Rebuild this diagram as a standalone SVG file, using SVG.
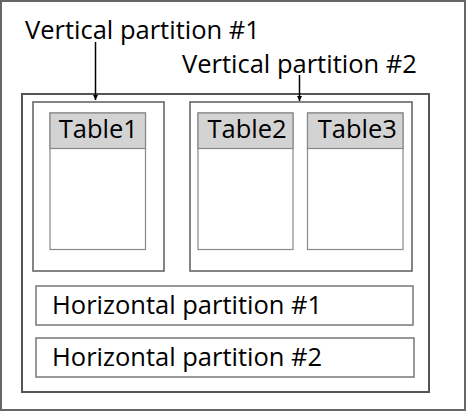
<svg xmlns="http://www.w3.org/2000/svg" width="466" height="411" viewBox="0 0 466 411">
<defs>
<style>
text{font-family:"Open Sans","Noto Sans",sans-serif;font-size:25.5px;fill:#000}
.outer{fill:#fff;stroke:#666;stroke-width:2}
.main{fill:none;stroke:#555;stroke-width:2}
.vp{fill:none;stroke:#666;stroke-width:1.6}
.hp{fill:none;stroke:#777;stroke-width:1.5}
.thead{fill:#d3d3d3;stroke:#888;stroke-width:1.2}
.tbody{fill:#fff;stroke:#888;stroke-width:1.2}
.conn{stroke:#000;stroke-width:1.5;fill:none}
</style>
<marker id="arr" viewBox="0 0 10 10" refX="10" refY="5" markerWidth="5" markerHeight="5" orient="auto" markerUnits="userSpaceOnUse">
<path d="M0,0 L10,5 L0,10 z" fill="#000"/>
</marker>
</defs>
<rect class="outer" x="1" y="1" width="464" height="409"/>
<g id="main">
<rect class="main" x="22" y="94" width="407" height="298"/>
</g>
<g id="vp1">
<rect class="vp" x="33" y="102" width="131" height="169"/>
</g>
<g id="vp2">
<rect class="vp" x="190" y="102" width="222" height="169"/>
</g>
<g id="table1">
<rect class="tbody" x="50" y="113" width="95.5" height="136.5"/>
<rect class="thead" x="50" y="113" width="95.5" height="35.5"/>
<text x="98.3" y="137.5" text-anchor="middle">Table1</text>
</g>
<g id="table2">
<rect class="tbody" x="198" y="113" width="95" height="136.5"/>
<rect class="thead" x="198" y="113" width="95" height="35.5"/>
<text x="247" y="137.5" text-anchor="middle">Table2</text>
</g>
<g id="table3">
<rect class="tbody" x="307.5" y="113" width="95.5" height="136.5"/>
<rect class="thead" x="307.5" y="113" width="95.5" height="35.5"/>
<text x="357.3" y="137.5" text-anchor="middle">Table3</text>
</g>
<g id="hp1">
<rect class="hp" x="36" y="286" width="377" height="39"/>
<text x="52" y="313.5">Horizontal partition #1</text>
</g>
<g id="hp2">
<rect class="hp" x="36" y="338" width="378" height="39"/>
<text x="52" y="366">Horizontal partition #2</text>
</g>
<g id="label1">
<text x="25" y="39">Vertical partition #1</text>
</g>
<g id="label2">
<text x="182" y="73">Vertical partition #2</text>
</g>
<g id="connectors">
<line class="conn" x1="95.5" y1="42" x2="95.5" y2="100" marker-end="url(#arr)"/>
<line class="conn" x1="299.5" y1="75" x2="299.5" y2="101" marker-end="url(#arr)"/>
</g>
</svg>
